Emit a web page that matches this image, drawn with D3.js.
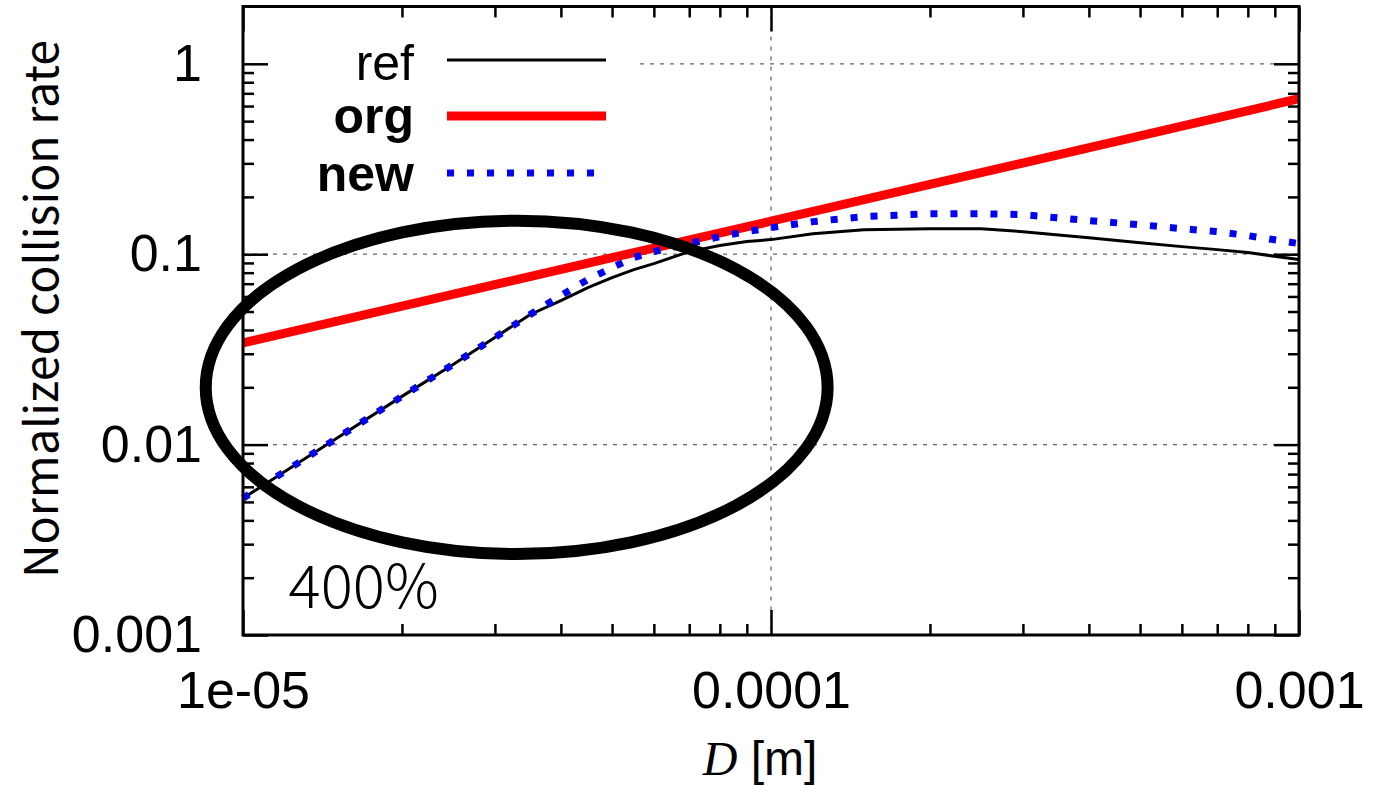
<!DOCTYPE html>
<html>
<head>
<meta charset="utf-8">
<script src="https://cdn.jsdelivr.net/npm/d3@7"></script>
<style>
  body { margin: 0; background: #fff; }
  svg { display: block; }
</style>
</head>
<body>
<div id="graphic"></div>
<script>
// diameters [m] where the curves were read
var diam = [1e-5, 1.5e-5, 2e-5, 2.5e-5, 3e-5, 3.5e-5, 4e-5, 4.5e-5, 5e-5, 5.5e-5, 6e-5, 7e-5, 8e-5, 9e-5,
            1e-4, 1.2e-4, 1.5e-4, 2e-4, 2.5e-4, 3e-4, 4e-4, 5e-4, 6e-4, 7e-4, 8e-4, 1e-3];
var refRate = [0.00523, 0.01073, 0.01792, 0.02637, 0.03653, 0.04825, 0.0571, 0.0668, 0.0754, 0.0830, 0.0893,
               0.1032, 0.1110, 0.1165, 0.1193, 0.1282, 0.1346, 0.1362, 0.1362, 0.1314, 0.1222, 0.1150,
               0.1096, 0.1057, 0.1020, 0.0937];
var newRate = [0.00523, 0.01073, 0.01792, 0.02637, 0.03653, 0.04825, 0.0607, 0.0736, 0.0851, 0.0960, 0.1032,
               0.1137, 0.1237, 0.1314, 0.1379, 0.1483, 0.1575, 0.1633, 0.1633, 0.1613, 0.1501, 0.1429,
               0.1362, 0.1314, 0.1252, 0.1137];
var orgDiam = [1e-5, 2e-5, 5e-5, 1e-4, 2e-4, 5e-4, 1e-3];
var orgRate = [0.0342, 0.0533, 0.0960, 0.149, 0.2325, 0.418, 0.656];

var xMajor = [1e-5, 1e-4, 1e-3];
var xLabels = ["1e-05", "0.0001", "0.001"];
var yMajor = [0.001, 0.01, 0.1, 1];
var yLabels = ["0.001", "0.01", "0.1", "1"];

var series = ["ref", "org", "new"];

// annotation: ellipse bounds (data units) and its label
var ringD = [8.5e-6, 1.28e-4];
var ringV = [0.00266, 0.150];
var noteText = "400%";
var notePos = [1.22e-5, 0.00139];

var graphic = new Object;

graphic.create = function() {
  var W = 1373, H = 785;
  var left = 243, right = 1299, top = 6.5, bottom = 635;
  var svg = d3.select("#graphic").append("svg").attr("width", W).attr("height", H);

  var x = d3.scaleLog().domain([1e-5, 1e-3]).range([left, right]);
  var y = d3.scaleLog().domain([0.001, 2]).range([bottom, top]);

  var xMinor = [], yMinor = [];
  [1e-5, 1e-4].forEach(function(d) { d3.range(2, 10).forEach(function(k) { xMinor.push(d * k); }); });
  [0.001, 0.01, 0.1, 1].forEach(function(d) { d3.range(2, 10).forEach(function(k) { if (d * k < 2) yMinor.push(d * k); }); });

  // grid
  var grid = svg.append("g").attr("stroke", "#666").attr("stroke-width", 1.3).attr("stroke-dasharray", "4,6");
  grid.append("line").attr("x1", x(1e-4)).attr("x2", x(1e-4)).attr("y1", top).attr("y2", bottom);
  [0.01, 0.1].forEach(function(v) {
    grid.append("line").attr("x1", left).attr("x2", right).attr("y1", y(v)).attr("y2", y(v));
  });
  grid.append("line").attr("x1", 640).attr("x2", right).attr("y1", y(1)).attr("y2", y(1));

  // ticks
  var fnt = "'Liberation Sans', Arial, Helvetica, sans-serif";
  function axisG(ax, tx, ty) {
    var g = svg.append("g").attr("transform", "translate(" + tx + "," + ty + ")").call(ax);
    g.select(".domain").remove();
    g.selectAll("line").attr("stroke", "#000").attr("stroke-width", 2.5);
    g.selectAll("text").attr("font-family", fnt).attr("font-size", 52).attr("fill", "#000");
    return g;
  }
  axisG(d3.axisBottom(x).tickValues(xMajor).tickSize(-25).tickPadding(36)
        .tickFormat(function(d, i) { return xLabels[i]; }), 0, bottom);
  axisG(d3.axisBottom(x).tickValues(xMinor).tickSize(-11).tickFormat(""), 0, bottom);
  axisG(d3.axisTop(x).tickValues(xMajor).tickSize(-25).tickFormat(""), 0, top);
  axisG(d3.axisTop(x).tickValues(xMinor).tickSize(-11).tickFormat(""), 0, top);
  axisG(d3.axisLeft(y).tickValues(yMajor).tickSize(-25).tickPadding(41)
        .tickFormat(function(d, i) { return yLabels[i]; }), left, 0);
  axisG(d3.axisLeft(y).tickValues(yMinor).tickSize(-11).tickFormat(""), left, 0);
  axisG(d3.axisRight(y).tickValues(yMajor).tickSize(-25).tickFormat(""), right, 0);
  axisG(d3.axisRight(y).tickValues(yMinor).tickSize(-11).tickFormat(""), right, 0);

  // curves
  var line = d3.line().x(function(d) { return x(d[0]); }).y(function(d) { return y(d[1]); });
  var styles = {
    ref: { color: "#000", width: 3, dash: null },
    org: { color: "#ff0000", width: 9, dash: null },
    "new": { color: "#0000ff", width: 7, dash: "7,13" }
  };
  var dataOf = {
    ref: d3.zip(diam, refRate),
    org: d3.zip(orgDiam, orgRate),
    "new": d3.zip(diam, newRate)
  };
  series.forEach(function(s) {
    svg.append("path").datum(dataOf[s]).attr("d", line).attr("fill", "none")
      .attr("stroke", styles[s].color).attr("stroke-width", styles[s].width)
      .attr("stroke-dasharray", styles[s].dash);
  });

  // frame
  svg.append("rect").attr("x", left).attr("y", top).attr("width", right - left).attr("height", bottom - top)
    .attr("fill", "none").attr("stroke", "#000").attr("stroke-width", 3);

  // legend
  var legY = [60, 116, 173], legBase = [80, 133, 191];
  series.forEach(function(s, i) {
    svg.append("text").attr("x", 414).attr("y", legBase[i]).attr("text-anchor", "end")
      .attr("font-family", fnt).attr("font-size", 50).attr("font-weight", s == "ref" ? "normal" : "bold")
      .text(s);
    svg.append("line").attr("x1", 447).attr("x2", 606).attr("y1", legY[i]).attr("y2", legY[i])
      .attr("stroke", styles[s].color).attr("stroke-width", styles[s].width)
      .attr("stroke-dasharray", styles[s].dash);
  });

  // axis titles
  svg.append("text").attr("transform", "translate(58,309) rotate(-90)").attr("text-anchor", "middle")
    .attr("font-family", "'Liberation Sans Narrow', 'Noto Sans CJK JP', sans-serif").attr("font-size", 46)
    .attr("textLength", 538).attr("lengthAdjust", "spacingAndGlyphs")
    .text("Normalized collision rate");
  var xt = svg.append("text").attr("x", 760).attr("y", 775).attr("text-anchor", "middle").attr("font-size", 48);
  xt.append("tspan").attr("font-family", "'Liberation Serif', serif").attr("font-style", "italic").text("D");
  xt.append("tspan").attr("font-family", "'Liberation Sans Narrow', 'Liberation Sans', sans-serif").text(" [m]");

  // annotation
  var cx = (x(ringD[0]) + x(ringD[1])) / 2, cy = (y(ringV[0]) + y(ringV[1])) / 2;
  svg.append("ellipse").attr("cx", cx).attr("cy", cy)
    .attr("rx", (x(ringD[1]) - x(ringD[0])) / 2).attr("ry", (y(ringV[0]) - y(ringV[1])) / 2)
    .attr("fill", "none").attr("stroke", "#000").attr("stroke-width", 12);
  svg.append("text").attr("x", x(notePos[0])).attr("y", y(notePos[1]))
    .attr("font-family", "'Noto Sans CJK JP', 'Noto Sans', sans-serif").attr("font-weight", 300)
    .attr("font-size", 60).text(noteText);
};

graphic.create();
</script>
</body>
</html>
